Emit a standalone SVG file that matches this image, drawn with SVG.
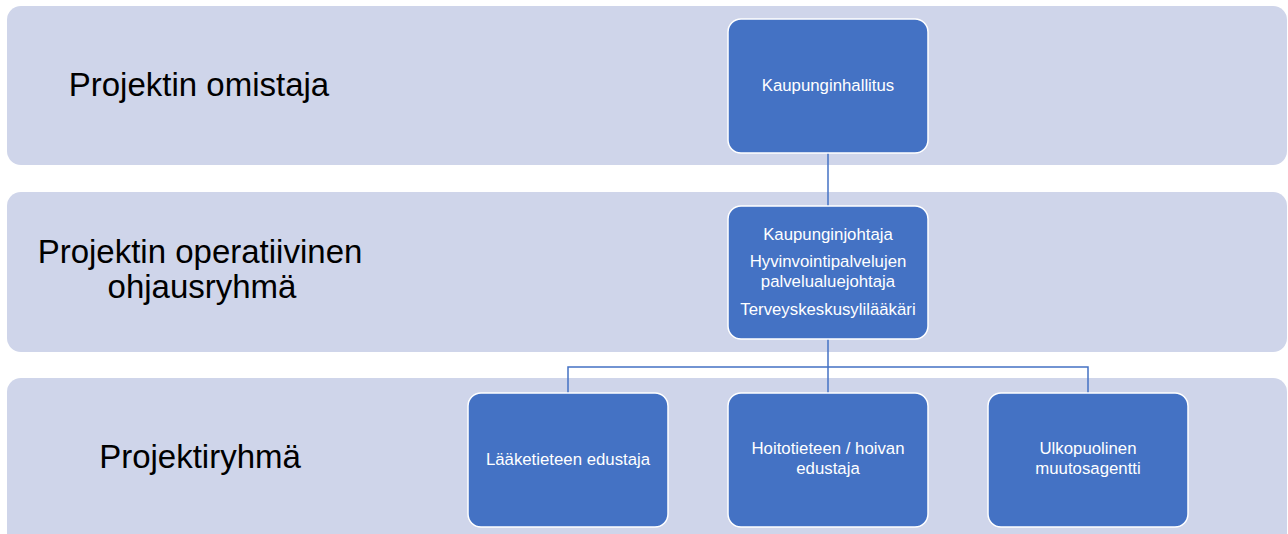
<svg xmlns="http://www.w3.org/2000/svg" width="1288" height="534" viewBox="0 0 1288 534">
<style>
.band{fill:#CFD5EA;}
.lbl{font-family:"Liberation Sans",Arial,sans-serif;font-size:33px;fill:#000;text-anchor:middle;}
.box{fill:#4472C4;stroke:#FFFFFF;stroke-width:1.5;}
.t{font-family:"Liberation Sans",Arial,sans-serif;font-size:16.8px;fill:#FFFFFF;text-anchor:middle;}
.con{fill:none;stroke:#4472C4;stroke-width:1.5;}
</style>
<rect width="1288" height="534" fill="#FFFFFF"/>
<g id="bands">
<rect class="band" x="7" y="6" width="1280" height="159" rx="14"/>
<rect class="band" x="7" y="192" width="1280" height="160" rx="14"/>
<rect class="band" x="7" y="378" width="1280" height="170" rx="14"/>
<text class="lbl" x="199" y="96">Projektin omistaja</text>
<text class="lbl" x="200" y="263">Projektin operatiivinen</text>
<text class="lbl" x="202" y="298">ohjausryhmä</text>
<text class="lbl" x="200" y="468">Projektiryhmä</text>
</g>
<g id="connectors">
<path class="con" d="M828 153V206"/>
<path class="con" d="M828 339V393"/>
<path class="con" d="M568 393V367H1088V393"/>
</g>
<g id="n1">
<rect class="box" x="728" y="19" width="200" height="134" rx="13"/>
<text class="t" x="828" y="91">Kaupunginhallitus</text>
</g>
<g id="n2">
<rect class="box" x="728" y="206" width="200" height="133" rx="13"/>
<text class="t" x="828" y="240">Kaupunginjohtaja</text>
<text class="t" x="828" y="267">Hyvinvointipalvelujen</text>
<text class="t" x="828" y="287">palvelualuejohtaja</text>
<text class="t" x="828" y="315">Terveyskeskusylilääkäri</text>
</g>
<g id="n3">
<rect class="box" x="468" y="393" width="200" height="134" rx="13"/>
<text class="t" x="568" y="465">Lääketieteen edustaja</text>
</g>
<g id="n4">
<rect class="box" x="728" y="393" width="200" height="134" rx="13"/>
<text class="t" x="828" y="454">Hoitotieteen / hoivan</text>
<text class="t" x="828" y="474">edustaja</text>
</g>
<g id="n5">
<rect class="box" x="988" y="393" width="200" height="134" rx="13"/>
<text class="t" x="1088" y="454">Ulkopuolinen</text>
<text class="t" x="1088" y="474">muutosagentti</text>
</g>
</svg>
